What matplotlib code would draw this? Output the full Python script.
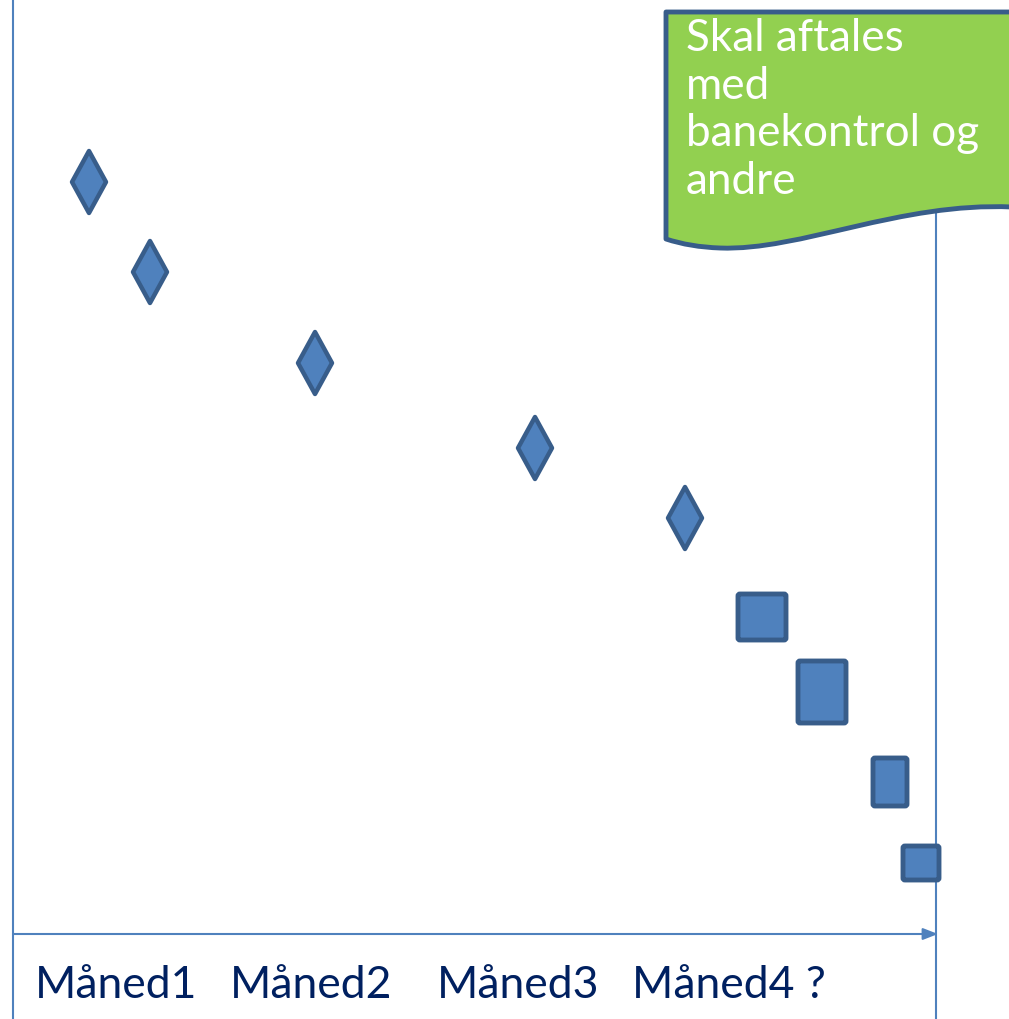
import numpy as np
import matplotlib
matplotlib.use("Agg")
import matplotlib.pyplot as plt
from matplotlib.patches import Polygon, FancyBboxPatch, PathPatch
from matplotlib.path import Path

# Data (pixel-like coordinate system of the diagram)
diamond_x = [89, 150, 315, 535, 685]
diamond_y = [183, 273, 364, 449, 519]
square_x = [762, 822, 890, 921]
square_y = [618, 693, 783, 864]
square_w = [48, 48, 34, 36]
square_h = [46, 62, 48, 34]
month_labels = ["Måned1", "Måned2", "Måned3", "Måned4 ?"]
month_label_x = [35, 230, 437, 632]
note_text = "Skal aftales\nmed\nbanekontrol og\nandre"

FILL = "#4F81BD"
EDGE = "#385D8A"
LINE = "#4F81BD"
GREEN = "#92D050"
NAVY = "#002060"
FONT = ["Lato", "DejaVu Sans"]

W, H = 1009, 1020
fig = plt.figure(figsize=(W / 100, H / 100), dpi=100)
ax = fig.add_axes([0, 0, 1, 1])
ax.set_xlim(0, W)
ax.set_ylim(H, 0)
ax.axis("off")

# axes lines
ax.plot([13, 13], [0, H], color=LINE, lw=1.5, zorder=1)
ax.plot([936, 936], [200, H], color=LINE, lw=1.5, zorder=1)
ax.annotate("", xy=(938, 935), xytext=(13, 935),
            arrowprops=dict(arrowstyle="-|>,head_length=0.9,head_width=0.35",
                            color=LINE, lw=1.5, shrinkA=0, shrinkB=0), zorder=1)

# diamonds
dw, dh = 17, 31
for x, y in zip(diamond_x, diamond_y):
    ax.add_patch(Polygon([(x, y - dh), (x + dw, y), (x, y + dh), (x - dw, y)],
                         closed=True, facecolor=FILL, edgecolor=EDGE, lw=3.2,
                         joinstyle="round", zorder=3))

# squares
for x, y, w, h in zip(square_x, square_y, square_w, square_h):
    ax.add_patch(FancyBboxPatch((x - w / 2, y - h / 2), w, h,
                                boxstyle="round,pad=0,rounding_size=2",
                                facecolor=FILL, edgecolor=EDGE, lw=3.5, zorder=3))

# green document shape
x0, x1, ytop = 666, 1012, 13
verts = [(x0, ytop), (x1, ytop), (x1, 208),
         (900, 203), (800, 252), (720, 249),
         (690, 248), (666, 240), (x0, ytop)]
codes = [Path.MOVETO, Path.LINETO, Path.LINETO,
         Path.CURVE4, Path.CURVE4, Path.CURVE4,
         Path.CURVE3, Path.CURVE3, Path.CLOSEPOLY]
path = Path(verts, codes)
ax.add_patch(PathPatch(path, facecolor=GREEN, edgecolor=EDGE, lw=3.5,
                       joinstyle="round", zorder=4))
ax.text(686, 18, note_text, color="white", fontsize=31.7, family=FONT,
        va="top", ha="left", linespacing=1.2, zorder=5)

for lbl, x in zip(month_labels, month_label_x):
    ax.text(x, 998, lbl, color=NAVY, fontsize=32, family=FONT,
            va="baseline", ha="left", zorder=5)

fig.savefig("out.png", dpi=100)
